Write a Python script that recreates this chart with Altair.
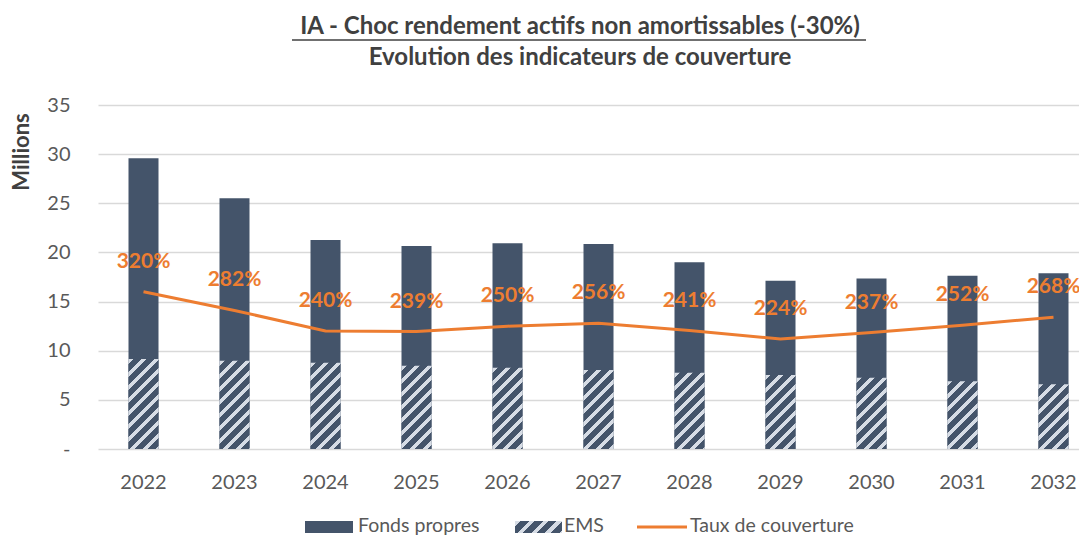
import altair as alt
import pandas as pd

years = ["2022", "2023", "2024", "2025", "2026", "2027", "2028", "2029", "2030", "2031", "2032"]
fonds_propres = [29.57, 25.5, 21.26, 20.65, 20.93, 20.86, 19.0, 17.12, 17.36, 17.63, 17.87]
ems = [9.16, 8.99, 8.78, 8.48, 8.27, 8.04, 7.76, 7.53, 7.26, 6.9, 6.58]
taux = [320, 282, 240, 239, 250, 256, 241, 224, 237, 252, 268]

title_1 = "IA - Choc rendement actifs non amortissables (-30%)"
title_2 = "Evolution des indicateurs de couverture"
y_title = "Millions"
legend_labels = ["Fonds propres", "EMS", "Taux de couverture"]

NAVY = "#44546A"
STRIPE = "#D6DCE5"
ORANGE = "#ED7D31"
GRID = "#D9D9D9"
TXT = "#595959"
TITLE = "#404040"
FONT = "Lato"

W, H = 981, 344
YMAX = 35
BAR = 30
PX = H / YMAX

df = pd.DataFrame({"year": years, "fp": fonds_propres, "ems": ems, "taux": taux})


def hatch(w, h, pitch=13.0, frac=0.38):
    n = (w + h) / pitch
    a = (w + h) / (w * w + h * h)
    stops = []
    k = 0
    while k < n:
        o0 = k / n
        o1 = min((k + frac) / n, 1.0)
        o2 = min((k + 1) / n, 1.0)
        stops += [
            {"offset": o0, "color": STRIPE},
            {"offset": o1, "color": STRIPE},
            {"offset": o1, "color": NAVY},
            {"offset": o2, "color": NAVY},
        ]
        k += 1
    return {"gradient": "linear", "x1": 0, "y1": 0, "x2": a * w, "y2": a * h, "stops": stops}


xscale = alt.Scale(range=[0, 1001], paddingInner=0, paddingOuter=0)
xenc = alt.X(
    "year:N",
    scale=xscale,
    axis=alt.Axis(
        title=None, labelAngle=0, domain=False, ticks=False, grid=False, labelPadding=23,
        labelFontSize=20, labelColor=TXT, labelFont=FONT,
    ),
)
yscale = alt.Scale(domain=[0, YMAX])

base = alt.Chart(df)

fp_bars = base.mark_bar(size=BAR, color=NAVY).encode(
    x=xenc,
    y=alt.Y(
        "fp:Q",
        scale=yscale,
        axis=alt.Axis(
            title=None, values=[0, 5, 10, 15, 20, 25, 30, 35], domain=False, ticks=False,
            labelPadding=28, labelFontSize=20, labelColor=TXT, labelFont=FONT,
            grid=True, gridColor=GRID, gridWidth=1.3,
            labelExpr="datum.value == 0 ? '-' : datum.label",
        ),
    ),
)

layers = [fp_bars]
for yr, e in zip(years, ems):
    layers.append(
        base.transform_filter(alt.datum.year == yr)
        .mark_bar(size=BAR, color=hatch(BAR, e * PX))
        .encode(x=alt.X("year:N", scale=xscale), y=alt.Y("ems:Q", scale=yscale))
    )

line = base.transform_calculate(ty="datum.taux / 20").mark_line(
    color=ORANGE, strokeWidth=3
).encode(x=alt.X("year:N", scale=xscale), y=alt.Y("ty:Q", scale=yscale))

labels = base.transform_calculate(
    ty="datum.taux / 20", lab="datum.taux + '%'"
).mark_text(
    color=ORANGE, fontWeight="bold", fontSize=21, font=FONT, dy=-30
).encode(x=alt.X("year:N", scale=xscale), y=alt.Y("ty:Q", scale=yscale), text="lab:N")

layers += [line, labels]

# titles
t1 = alt.Chart(pd.DataFrame({"t": [title_1]})).mark_text(
    fontSize=24, fontWeight="bold", font=FONT, color=TITLE
).encode(x=alt.value(482), y=alt.value(-78), text="t:N")
t1u = alt.Chart(pd.DataFrame({"t": [title_1]})).mark_rule(color=TITLE, strokeWidth=1.3).encode(
    x=alt.value(194), x2=alt.value(768), y=alt.value(-65)
)
t2 = alt.Chart(pd.DataFrame({"t": [title_2]})).mark_text(
    fontSize=24, fontWeight="bold", font=FONT, color=TITLE
).encode(x=alt.value(482), y=alt.value(-47), text="t:N")
yt = alt.Chart(pd.DataFrame({"t": [y_title]})).mark_text(
    fontSize=22, fontWeight="bold", font=FONT, color=TITLE, angle=270
).encode(x=alt.value(-76), y=alt.value(47), text="t:N")

# legend
LY = 421
sw1 = alt.Chart(pd.DataFrame({"t": [legend_labels[0]]})).mark_rect(color=NAVY).encode(
    x=alt.value(207), x2=alt.value(255), y=alt.value(LY - 5), y2=alt.value(LY + 7)
)
sw2 = alt.Chart(pd.DataFrame({"t": [legend_labels[1]]})).mark_rect(color=hatch(47, 12, pitch=14, frac=0.4)).encode(
    x=alt.value(417), x2=alt.value(464), y=alt.value(LY - 5), y2=alt.value(LY + 7)
)
sw3 = alt.Chart(pd.DataFrame({"t": [legend_labels[2]]})).mark_rule(color=ORANGE, strokeWidth=3).encode(
    x=alt.value(539), x2=alt.value(589), y=alt.value(LY + 1)
)
leg_text = alt.Chart(pd.DataFrame({"t": legend_labels, "px": [260, 466, 592]})).mark_text(
    fontSize=19.5, font=FONT, color=TXT, align="left", baseline="middle"
).encode(x=alt.X("px:Q", scale=None), y=alt.value(LY), text="t:N")

layers += [t1, t1u, t2, yt, sw1, sw2, sw3, leg_text]

chart = alt.layer(*layers).properties(
    width=W, height=H,
    autosize=alt.AutoSizeParams(type="none"),
    padding={"left": 90, "top": 97, "right": 0, "bottom": 89},
).configure_view(stroke=None)

chart.save("out.html", embed_options={"renderer": "svg", "actions": False})
